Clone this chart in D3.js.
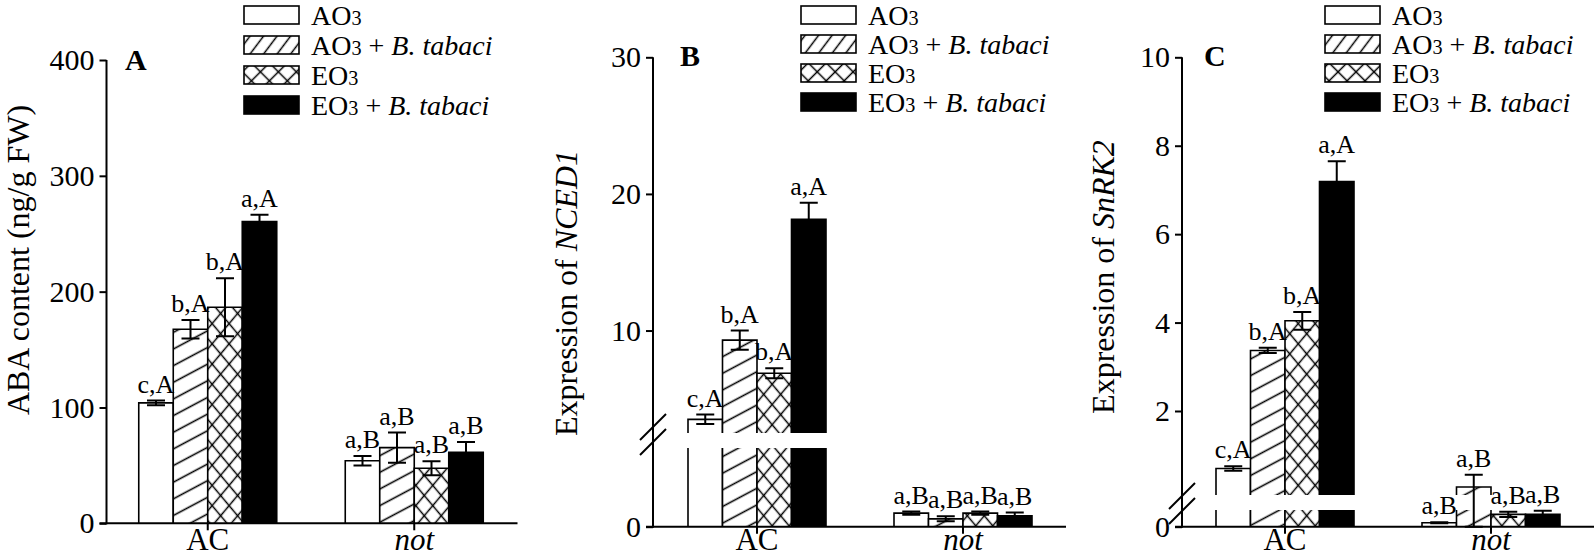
<!DOCTYPE html>
<html>
<head>
<meta charset="utf-8">
<script src="https://cdn.jsdelivr.net/npm/d3@7"></script>
<style>
  body { margin: 0; background: #fff; }
  svg { display: block; }
</style>
</head>
<body>
<div id="chart"></div>
<script>
// categories
const groups = ["AC", "not"];
const treatments = ["AO3", "AO3 + B. tabaci", "EO3", "EO3 + B. tabaci"];

// panel A: ABA content
const abaMean = [[104, 167.5, 186.5, 260.5], [54, 65.3, 47.5, 61.3]];
const abaErr = [[2, 8, 25, 6], [4, 13, 6, 9]];
const abaLetters = [["c,A", "b,A", "b,A", "a,A"], ["a,B", "a,B", "a,B", "a,B"]];
const abaTicks = [0, 100, 200, 300, 400];

// panel B: NCED1 expression (broken axis at 2.5)
const ncedMean = [[3.5, 9.3, 6.87, 18.15], [0.43, 0.25, 0.43, 0.35]];
const ncedErr = [[0.35, 0.7, 0.37, 1.2], [0.05, 0.08, 0.05, 0.1]];
const ncedLetters = [["c,A", "b,A", "b,A", "a,A"], ["a,B", "a,B", "a,B", "a,B"]];
const ncedTicks = [0, 10, 20, 30];
const ncedBreak = 2.5;

// panel C: SnRK2 expression (broken axis at 0.1)
const snrkMean = [[0.70, 3.37, 4.04, 7.19], [0.024, 0.28, 0.074, 0.074]];
const snrkErr = [[0.05, 0.06, 0.2, 0.46], [0.003, 0.28, 0.016, 0.022]];
const snrkLetters = [["c,A", "b,A", "b,A", "a,A"], ["a,B", "a,B", "a,B", "a,B"]];
const snrkTicks = [0, 2, 4, 6, 8, 10];
const snrkBreak = 0.1;

const FONT = '"Liberation Serif", "Times New Roman", serif';

const svg = d3.select("#chart").append("svg")
  .attr("width", 1594)
  .attr("height", 557)
  .style("font-family", FONT);

// hatch patterns
const defs = svg.append("defs");
function linePattern(id, spacing, angle, sw) {
  const p = defs.append("pattern")
    .attr("id", id)
    .attr("patternUnits", "userSpaceOnUse")
    .attr("width", 20)
    .attr("height", spacing)
    .attr("patternTransform", "rotate(" + angle + ")");
  p.append("line")
    .attr("x1", 0).attr("x2", 20)
    .attr("y1", spacing / 2).attr("y2", spacing / 2)
    .attr("stroke", "#000")
    .attr("stroke-width", sw);
}
linePattern("hatch", 14.7, -28, 1.6);
linePattern("crossA", 13, 50, 1.5);
linePattern("crossB", 13, -50, 1.5);
linePattern("hatchLeg", 10.8, -53, 1.5);
linePattern("crossLegA", 12.7, 45, 1.5);
linePattern("crossLegB", 12.7, -45, 1.5);

function barFills(t, legend) {
  if (t === "AO3") return ["#fff"];
  if (t === "AO3 + B. tabaci") return ["#fff", legend ? "url(#hatchLeg)" : "url(#hatch)"];
  if (t === "EO3") return legend ? ["#fff", "url(#crossLegA)", "url(#crossLegB)"]
                                 : ["#fff", "url(#crossA)", "url(#crossB)"];
  return ["#000"];
}

// "AO3 + B. tabaci" -> AO, small 3, " + ", italic "B. tabaci"
function treatmentText(sel, name) {
  sel.append("tspan").text(name.slice(0, 2));
  sel.append("tspan").attr("font-size", "0.72em").text("3");
  const rest = name.slice(3);
  if (rest.length) {
    const parts = rest.split("+");
    sel.append("tspan").text(" + ");
    sel.append("tspan").attr("font-style", "italic").text(parts[1].trim());
  }
}

// builds a (possibly broken) y scale
function makeY(base, top, domainMax, brk, lowTop, upBottom) {
  if (brk == null) {
    const s = d3.scaleLinear().domain([0, domainMax]).range([base, top]);
    return { f: v => s(v), parts: [{ scale: s, min: 0 }], gap: null };
  }
  const lo = d3.scaleLinear().domain([0, brk]).range([base, lowTop]);
  const up = d3.scaleLinear().domain([brk, domainMax]).range([upBottom, top]);
  return {
    f: v => (v <= brk ? lo(v) : up(v)),
    parts: [{ scale: lo, min: 0, max: brk }, { scale: up, min: brk }],
    gap: [upBottom, lowTop]
  };
}

const panels = [
  {
    letter: "A", mean: abaMean, err: abaErr, letters: abaLetters, ticks: abaTicks,
    y: makeY(523.3, 60, 400, null),
    axisX: 106.5, band: [104.5, 517.5], xLine: [99.5, 517.5],
    title: ["ABA content (ng/g FW)", ""], titleX: 29, titleY: 260,
    letterPos: [125, 70], legendX: 244, legendY: [6, 36, 66, 96],
    breakY: null
  },
  {
    letter: "B", mean: ncedMean, err: ncedErr, letters: ncedLetters, ticks: ncedTicks,
    y: makeY(526.7, 57.3, 30, ncedBreak, 448, 433),
    axisX: 653, band: [654, 1066], xLine: [646, 1066],
    title: ["Expression of ", "NCED1"], titleX: 577, titleY: 293,
    letterPos: [680, 66], legendX: 801, legendY: [6, 35, 64, 93],
    breakY: [427, 442]
  },
  {
    letter: "C", mean: snrkMean, err: snrkErr, letters: snrkLetters, ticks: snrkTicks,
    y: makeY(526.7, 57.3, 10, snrkBreak, 510, 495),
    axisX: 1182, band: [1182, 1594], xLine: [1175, 1594],
    title: ["Expression of ", "SnRK2"], titleX: 1114, titleY: 277,
    letterPos: [1204, 66], legendX: 1325, legendY: [6, 35, 64, 93],
    breakY: [496, 511]
  }
];

panels.forEach(cfg => {
  const g = svg.append("g");
  const y = cfg.y.f;
  const x0 = d3.scaleBand().domain(groups).range(cfg.band);
  const x1 = d3.scaleBand().domain(treatments).range([-69, 69]);
  const bw = x1.bandwidth();

  // bars
  groups.forEach((grp, gi) => {
    treatments.forEach((t, ti) => {
      const v = cfg.mean[gi][ti];
      const bx = x0(grp) + x0.bandwidth() / 2 + x1(t);
      const yTop = y(v), yBase = y(0);
      barFills(t, false).forEach(f => {
        g.append("rect")
          .attr("x", bx).attr("y", yTop)
          .attr("width", bw).attr("height", yBase - yTop)
          .attr("fill", f);
      });
      g.append("path")
        .attr("d", "M" + bx + "," + yBase + "V" + yTop + "H" + (bx + bw) + "V" + yBase)
        .attr("fill", "none")
        .attr("stroke", "#000")
        .attr("stroke-width", 1.6);
    });
  });

  // white gap across the broken bars
  if (cfg.y.gap) {
    g.append("rect")
      .attr("x", cfg.axisX + 1.5)
      .attr("y", cfg.y.gap[0])
      .attr("width", cfg.xLine[1] - cfg.axisX)
      .attr("height", cfg.y.gap[1] - cfg.y.gap[0])
      .attr("fill", "#fff");
  }

  // error bars and letters
  groups.forEach((grp, gi) => {
    treatments.forEach((t, ti) => {
      const v = cfg.mean[gi][ti], e = cfg.err[gi][ti];
      const cx = x0(grp) + x0.bandwidth() / 2 + x1(t) + bw / 2;
      const yHi = y(v + e), yLo = y(Math.max(0, v - e));
      g.append("path")
        .attr("d", "M" + cx + "," + yLo + "V" + yHi +
          "M" + (cx - 9) + "," + yHi + "H" + (cx + 9) +
          "M" + (cx - 9) + "," + yLo + "H" + (cx + 9))
        .attr("fill", "none")
        .attr("stroke", "#000")
        .attr("stroke-width", 2);
      g.append("text")
        .attr("x", cx)
        .attr("y", yHi - 8)
        .attr("text-anchor", "middle")
        .attr("font-size", 26)
        .text(cfg.letters[gi][ti]);
    });
  });

  // y axis
  cfg.y.parts.forEach(p => {
    const vals = cfg.ticks.filter(d => d >= p.min && (p.max == null || d <= p.max));
    const ax = g.append("g")
      .attr("transform", "translate(" + cfg.axisX + ",0)")
      .call(d3.axisLeft(p.scale).tickValues(vals).tickFormat(d3.format("~g"))
        .tickSize(7).tickPadding(5).tickSizeOuter(0));
    ax.select(".domain").remove();
    ax.selectAll("line").attr("stroke", "#000").attr("stroke-width", 2);
    ax.selectAll("text")
      .attr("font-size", 30)
      .attr("font-family", FONT)
      .attr("fill", "#000");
  });
  g.append("line")
    .attr("x1", cfg.axisX).attr("x2", cfg.axisX)
    .attr("y1", y(0) + 1).attr("y2", y(d3.max(cfg.ticks)))
    .attr("stroke", "#000").attr("stroke-width", 2);

  // axis break marks
  if (cfg.breakY) {
    cfg.breakY.forEach(by => {
      g.append("line")
        .attr("x1", cfg.axisX - 13).attr("y1", by + 13)
        .attr("x2", cfg.axisX + 13).attr("y2", by - 13)
        .attr("stroke", "#000").attr("stroke-width", 2);
    });
  }

  // x axis
  const xa = g.append("g")
    .attr("transform", "translate(0," + y(0) + ")")
    .call(d3.axisBottom(x0).tickSize(7).tickSizeOuter(0));
  xa.select(".domain").remove();
  xa.selectAll("line").attr("stroke", "#000").attr("stroke-width", 2);
  xa.selectAll("text")
    .attr("font-size", 31)
    .attr("font-family", FONT)
    .attr("fill", "#000")
    .attr("dy", null)
    .attr("y", 550 - y(0))
    .attr("font-style", d => (d === "not" ? "italic" : "normal"));
  g.append("line")
    .attr("x1", cfg.xLine[0]).attr("x2", cfg.xLine[1])
    .attr("y1", y(0)).attr("y2", y(0))
    .attr("stroke", "#000").attr("stroke-width", 2);

  // y title
  const tt = g.append("text")
    .attr("transform", "translate(" + cfg.titleX + "," + cfg.titleY + ") rotate(-90)")
    .attr("text-anchor", "middle")
    .attr("font-size", 32);
  tt.append("tspan").text(cfg.title[0]);
  if (cfg.title[1]) tt.append("tspan").attr("font-style", "italic").text(cfg.title[1]);

  // panel letter
  g.append("text")
    .attr("x", cfg.letterPos[0]).attr("y", cfg.letterPos[1])
    .attr("font-size", 30)
    .attr("font-weight", "bold")
    .text(cfg.letter);

  // legend
  treatments.forEach((t, ti) => {
    const ly = cfg.legendY[ti];
    barFills(t, true).forEach(f => {
      g.append("rect")
        .attr("x", cfg.legendX).attr("y", ly)
        .attr("width", 55).attr("height", 18)
        .attr("fill", f);
    });
    g.append("rect")
      .attr("x", cfg.legendX).attr("y", ly)
      .attr("width", 55).attr("height", 18)
      .attr("fill", "none")
      .attr("stroke", "#000")
      .attr("stroke-width", 1.6);
    const lt = g.append("text")
      .attr("x", cfg.legendX + 67)
      .attr("y", ly + 18.5)
      .attr("font-size", 28);
    treatmentText(lt, t);
  });
});
</script>
</body>
</html>
